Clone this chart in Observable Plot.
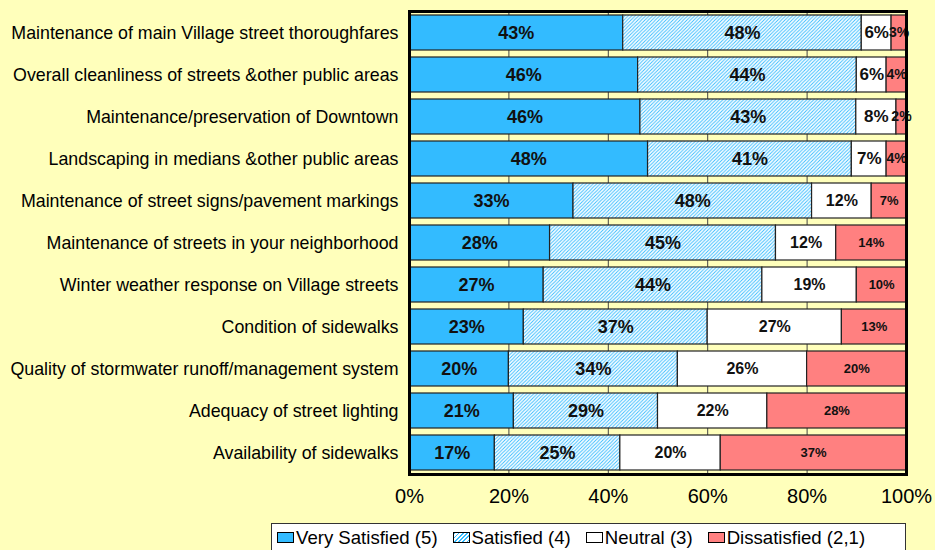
<!DOCTYPE html>
<html>
<head>
<meta charset="utf-8">
<script src="https://cdn.jsdelivr.net/npm/d3@7"></script>
<script src="https://cdn.jsdelivr.net/npm/@observablehq/plot@0.6"></script>
<style>
  html, body { margin: 0; padding: 0; background: #FFFFBB; width: 935px; height: 550px; overflow: hidden; }
  #chart { position: absolute; left: 0; top: 0; }
  #legend { position: absolute; left: 271px; top: 523px; width: 635px; height: 29px; background: #fff; border: 1px solid #333; box-sizing: border-box;
    font-family: "Liberation Sans", Arial, sans-serif; font-size: 18.6px; display: flex; align-items: center; padding-left: 5px; white-space: nowrap; }
  .sw { display: inline-block; width: 17px; height: 11px; border: 1px solid #000; box-sizing: border-box; margin-right: 2px; vertical-align: 1px; }
  .item { margin-right: 15px; }
</style>
</head>
<body>
<div id="chart"></div>
<div id="legend"></div>
<script>
const categories = [
  "Maintenance of main Village street thoroughfares",
  "Overall cleanliness of streets &other public areas",
  "Maintenance/preservation of Downtown",
  "Landscaping in medians &other public areas",
  "Maintenance of street signs/pavement markings",
  "Maintenance of streets in your neighborhood",
  "Winter weather response on Village streets",
  "Condition of sidewalks",
  "Quality of stormwater runoff/management system",
  "Adequacy of street lighting",
  "Availability of sidewalks"
];
const series = ["Very Satisfied (5)", "Satisfied (4)", "Neutral (3)", "Dissatisfied (2,1)"];
const verySatisfied = [43, 46, 46, 48, 33, 28, 27, 23, 20, 21, 17];
const satisfied     = [48, 44, 43, 41, 48, 45, 44, 37, 34, 29, 25];
const neutral       = [6, 6, 8, 7, 12, 12, 19, 27, 26, 22, 20];
const dissatisfied  = [3, 4, 2, 4, 7, 14, 10, 13, 20, 28, 37];
const xTicks = [0, 0.2, 0.4, 0.6, 0.8, 1];

const colors = ["#33BBFF", "url(#hatch)", "#FFFFFF", "#FF8080"];
const labelSizes = [18, 18, 16, 13];
const topSizes = [18, 18, 17, 14];

const valuesBySeries = [verySatisfied, satisfied, neutral, dissatisfied];
const data = [];
categories.forEach((c, i) => {
  series.forEach((s, j) => {
    data.push({cat: c, series: s, value: valuesBySeries[j][i], size: (i < 4 ? topSizes[j] : labelSizes[j])});
  });
});

const chart = Plot.plot({
  width: 935,
  height: 515,
  marginLeft: 409,
  marginRight: 29,
  marginTop: 11,
  marginBottom: 41,
  style: {background: "transparent", fontFamily: "'Liberation Sans', Arial, sans-serif", color: "#000"},
  x: {domain: [0, 1], ticks: xTicks, tickFormat: d3.format(".0%"), label: null},
  y: {domain: categories, paddingInner: 0.17, paddingOuter: 0.07, label: null},
  color: {domain: series, range: colors},
  marks: [
    Plot.ruleX(xTicks.slice(1, -1), {stroke: "#444", strokeWidth: 1}),
    Plot.barX(data, Plot.stackX({x: "value", y: "cat", z: "series", fill: "series", offset: "normalize", stroke: "#222", strokeWidth: 1.2})),
    Plot.text(data, Plot.stackX({x: "value", y: "cat", z: "series", offset: "normalize", text: d => d.value + "%", fontSize: "size", fontWeight: "bold", fill: "#111"})),
    Plot.frame({stroke: "#000", strokeWidth: 3}),
    Plot.axisX({ticks: xTicks, tickFormat: d3.format(".0%"), tickSize: 0, tickPadding: 14, fontSize: 20, label: null}),
    Plot.axisY({tickSize: 0, tickPadding: 11, fontSize: 17.8, label: null})
  ]
});

const defs = d3.select(chart).insert("defs", ":first-child");
defs.html(`<pattern id="hatch" patternUnits="userSpaceOnUse" width="3.5" height="3.5">
  <rect width="3.5" height="3.5" fill="#FFFFFF"/>
  <path d="M-1,1 L1,-1 M0,3.5 L3.5,0 M2.5,4.5 L4.5,2.5" stroke="#33BBFF" stroke-width="0.9"/>
</pattern>`);
document.getElementById("chart").appendChild(chart);

const lg = d3.select("#legend");
series.forEach((s, j) => {
  const it = lg.append("span").attr("class", "item");
  const sw = it.append("span").attr("class", "sw");
  if (j === 1) sw.style("background", "repeating-linear-gradient(135deg, #33BBFF 0 1.2px, #fff 1.2px 3px)");
  else sw.style("background", colors[j]);
  it.append("span").text(s);
});
</script>
</body>
</html>
